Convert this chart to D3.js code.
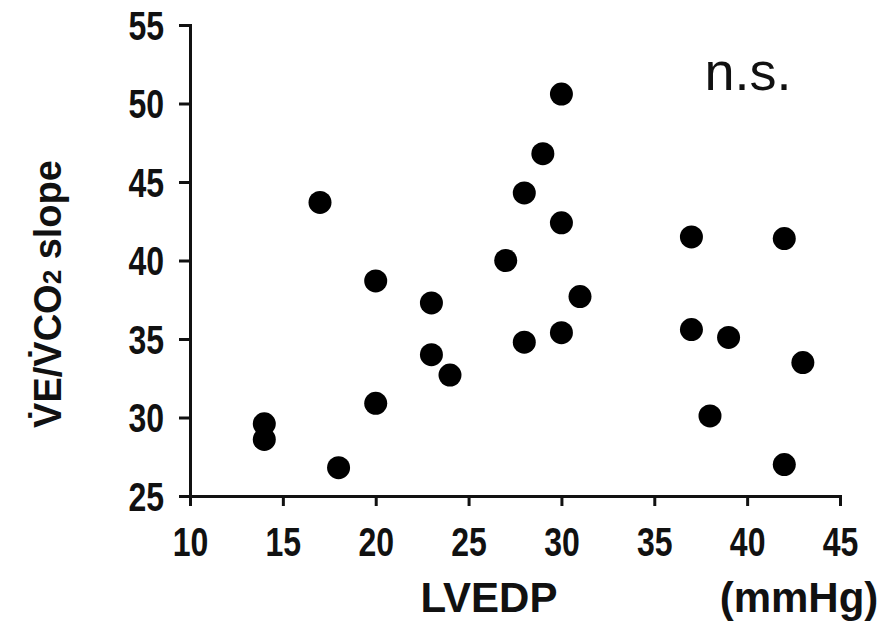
<!DOCTYPE html>
<html>
<head>
<meta charset="utf-8">
<script src="https://cdn.jsdelivr.net/npm/d3@7"></script>
<style>
  body { margin: 0; background: #fff; }
</style>
</head>
<body>
<svg id="mainFrame"></svg>
<script>
// LVEDP (mmHg) vs VE/VCO2 slope
const lvedp = [17, 20, 23, 23, 24, 20, 14, 14, 18, 30, 29, 28, 30, 27, 31, 30, 28, 37, 42, 37, 39, 43, 38, 42];
const slope = [43.7, 38.7, 37.3, 34.0, 32.7, 30.9, 29.6, 28.6, 26.8, 50.6, 46.8, 44.3, 42.4, 40.0, 37.7, 35.4, 34.8, 41.5, 41.4, 35.6, 35.1, 33.5, 30.1, 27.0];
const xTicks = [10, 15, 20, 25, 30, 35, 40, 45];
const yTicks = [25, 30, 35, 40, 45, 50, 55];

const width = 895, height = 629;
const font = "'Liberation Sans', Arial, sans-serif";
const squeeze = 0.8; // tick digits are condensed in the original

const points = lvedp.map((d, i) => ({ x: d, y: slope[i] }));

const x = d3.scaleLinear().domain([10, 45]).range([190, 840]);
const y = d3.scaleLinear().domain([25, 55]).range([496, 25]);

const svg = d3.select("#mainFrame")
    .attr("width", width)
    .attr("height", height);

const xAxis = svg.append("g")
    .attr("transform", `translate(0,${y(25)})`)
    .call(d3.axisBottom(x).tickValues(xTicks).tickSize(10).tickSizeOuter(10).tickPadding(22));

const yAxis = svg.append("g")
    .attr("transform", `translate(${x(10)},0)`)
    .call(d3.axisLeft(y).tickValues(yTicks).tickSize(11).tickSizeOuter(11).tickPadding(14));

[xAxis, yAxis].forEach(g => {
    g.select(".domain").attr("stroke", "#111").attr("stroke-width", 3);
    g.selectAll(".tick line").attr("stroke", "#111").attr("stroke-width", 3);
    g.selectAll(".tick text")
        .attr("fill", "#111")
        .attr("font-family", font)
        .attr("font-weight", "bold")
        .attr("font-size", 40)
        .attr("transform", `scale(${squeeze},1)`);
});
yAxis.selectAll(".tick text")
    .attr("dy", "0.36em")
    .attr("x", -26 / squeeze);

svg.append("g")
    .selectAll("circle")
    .data(points)
    .join("circle")
    .attr("cx", d => x(d.x))
    .attr("cy", d => y(d.y))
    .attr("r", 11.5)
    .attr("fill", "#000");

svg.append("text")
    .attr("x", 748)
    .attr("y", 90)
    .attr("text-anchor", "middle")
    .attr("font-family", font)
    .attr("font-size", 54)
    .attr("fill", "#111")
    .text("n.s.");

svg.append("text")
    .attr("x", 489)
    .attr("y", 612)
    .attr("text-anchor", "middle")
    .attr("font-family", font)
    .attr("font-weight", "bold")
    .attr("font-size", 42)
    .attr("fill", "#111")
    .text("LVEDP");

svg.append("text")
    .attr("x", 799)
    .attr("y", 612)
    .attr("text-anchor", "middle")
    .attr("font-family", font)
    .attr("font-weight", "bold")
    .attr("font-size", 42)
    .attr("fill", "#111")
    .text("(mmHg)");

const yTitle = svg.append("text")
    .attr("transform", "translate(61,294) rotate(-90)")
    .attr("text-anchor", "middle")
    .attr("font-family", font)
    .attr("font-weight", "bold")
    .attr("font-size", 38)
    .attr("fill", "#111");
yTitle.append("tspan").text("V\u0307E/V\u0307CO");
yTitle.append("tspan").attr("font-size", 26).text("2");
yTitle.append("tspan").text(" slope");
</script>
</body>
</html>
